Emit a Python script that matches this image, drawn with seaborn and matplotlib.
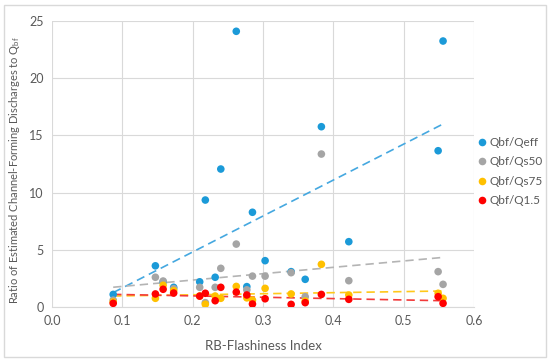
import numpy as np, pandas as pd, matplotlib
matplotlib.use('Agg')
import matplotlib.pyplot as plt
import seaborn as sns
from matplotlib.patches import Rectangle

# RB-Flashiness index per station
rbi = [0.087, 0.147, 0.158, 0.173, 0.210, 0.218, 0.232, 0.240, 0.262, 0.277,
       0.285, 0.303, 0.340, 0.360, 0.383, 0.422, 0.549, 0.556]
qeff = [1.1, 3.6, 2.2, 1.72, 2.2, 9.35, 2.6, 12.06, 24.1, 1.78,
        8.28, 4.05, 3.09, 2.42, 15.76, 5.71, 13.66, 23.25]
qs50 = [0.6, 2.6, 2.27, 1.6, 1.72, 0.38, 1.72, 3.38, 5.5, 1.5,
        2.7, 2.7, 3.0, 0.9, 13.37, 2.3, 3.09, 1.98]
qs75 = [0.45, 0.76, 1.9, 1.43, 0.96, 0.24, 0.96, 0.76, 1.8, 0.8,
        0.6, 1.63, 1.14, 0.52, 3.73, 1.05, 1.2, 0.76]
q15 = [0.32, 1.14, 1.55, 1.22, 0.95, 1.2, 0.55, 1.72, 1.3, 1.05,
       0.26, 0.72, 0.23, 0.38, 1.1, 0.67, 0.9, 0.32]
series = ['Qbf/Qeff', 'Qbf/Qs50', 'Qbf/Qs75', 'Qbf/Q1.5']
colors = ['#1B9AD8', '#A5A5A5', '#FFC000', '#FF0000']
line_colors = ['#45A8E0', '#B4B4B4', '#FFC81A', '#F23A3A']

df = pd.concat([pd.DataFrame({'rbi': rbi, 'ratio': v, 'series': s})
                for s, v in zip(series, [qeff, qs50, qs75, q15])], ignore_index=True)

plt.rcParams['font.family'] = ['Lato', 'DejaVu Sans']
fig = plt.figure(figsize=(5.5, 3.61), dpi=100)
ax = fig.add_axes([52/550, 1-307/361, (474-52)/550, (307-21)/361])

for s, lc in zip(series, line_colors):
    sns.regplot(data=df[df.series == s], x='rbi', y='ratio', scatter=False, ci=None,
                truncate=True, ax=ax, line_kws=dict(color=lc, lw=1.2, ls=(0, (5, 3))))
sns.scatterplot(data=df, x='rbi', y='ratio', hue='series', hue_order=series,
                palette=colors, s=30, edgecolor='none', ax=ax, zorder=3)

ax.set_xlim(0, 0.6); ax.set_ylim(0, 25)
ax.set_xticks(np.arange(0, 0.61, 0.1)); ax.set_yticks(range(0, 26, 5))
ax.set_xticklabels([f'{t:.1f}' for t in np.arange(0, 0.61, 0.1)])
ax.grid(True, color='#D9D9D9', lw=0.8); ax.set_axisbelow(True)
for sp in ['top', 'right', 'left']: ax.spines[sp].set_visible(False)
ax.spines['bottom'].set_color('#D9D9D9')
ax.tick_params(length=0, labelsize=9, colors='#595959', pad=6)
ax.set_xlabel('RB-Flashiness Index', fontsize=9.5, color='#595959', labelpad=9)
ax.set_ylabel(r'Ratio of Estimated Channel-Forming Discharges to Q$_\mathregular{bf}$',
              fontsize=8, color='#595959')
ax.yaxis.set_label_coords(-0.071, 0.48)
leg = ax.legend(loc='upper left', bbox_to_anchor=(477/550, 1-137/361), bbox_transform=fig.transFigure,
                frameon=False, fontsize=8.5, handlelength=0.9, handletextpad=0.15,
                labelspacing=0.72, borderpad=0, borderaxespad=0)
for t in leg.get_texts(): t.set_color('#595959')
fig.patches.append(Rectangle((4/550, 4/361), 542/550, 352/361, transform=fig.transFigure,
                             fill=False, ec='#D9D9D9', lw=1))
fig.savefig('out.png', dpi=100)
